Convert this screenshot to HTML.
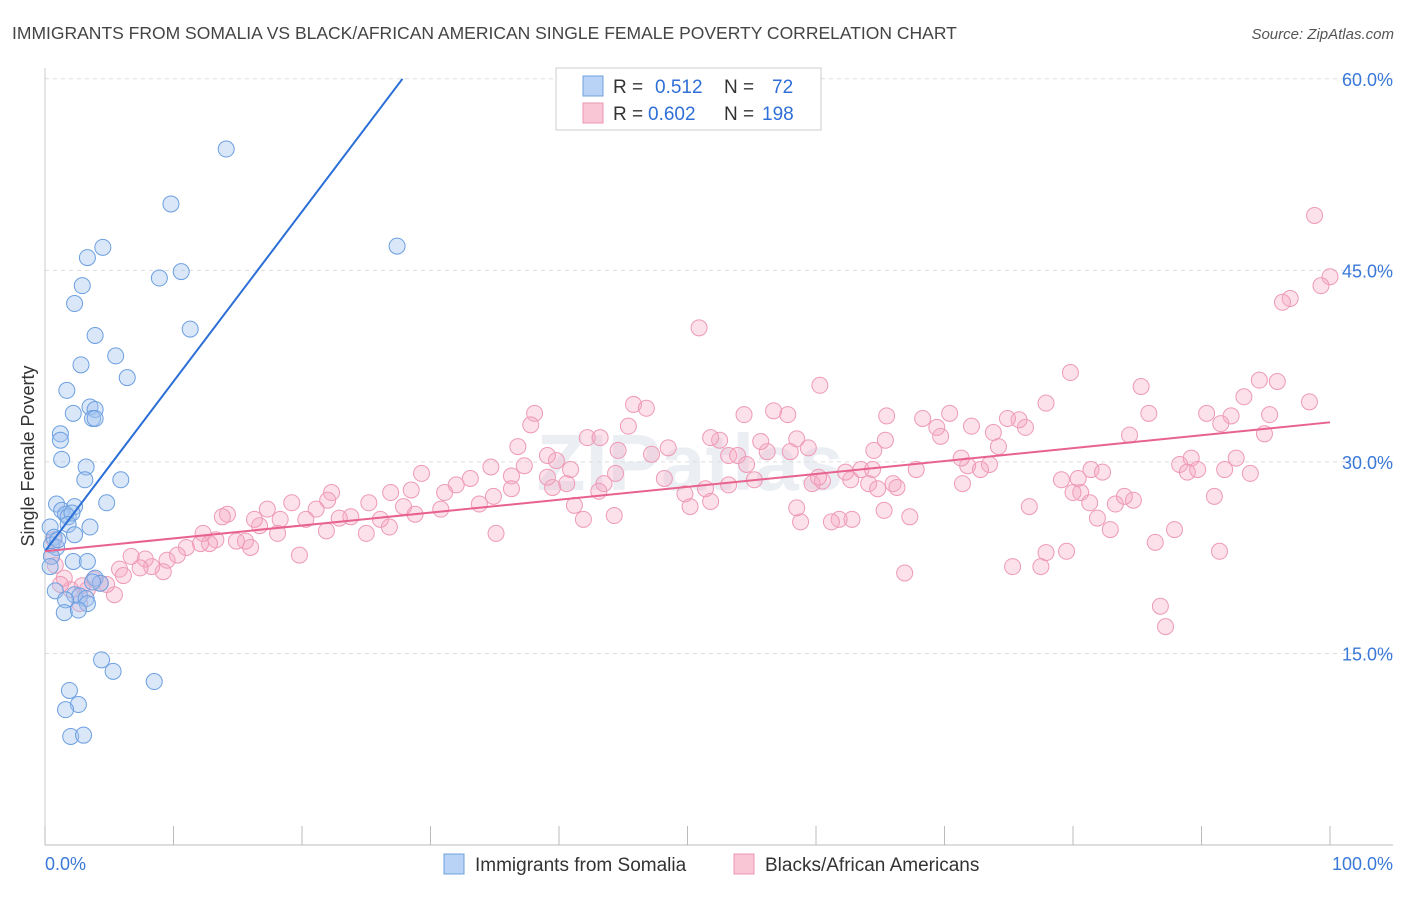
<!DOCTYPE html>
<html><head><meta charset="utf-8"><style>
body{margin:0;background:#fff;font-family:"Liberation Sans",sans-serif;}
svg text{font-family:"Liberation Sans",sans-serif;}
</style></head><body>
<svg id="chart" width="1406" height="892" viewBox="0 0 1406 892" xmlns="http://www.w3.org/2000/svg">
<text x="12" y="39" font-size="17.5" fill="#444">IMMIGRANTS FROM SOMALIA VS BLACK/AFRICAN AMERICAN SINGLE FEMALE POVERTY CORRELATION CHART</text>
<text x="1394" y="39" font-size="15" fill="#555" text-anchor="end" font-style="italic">Source: ZipAtlas.com</text>
<text transform="translate(34,456) rotate(-90)" font-size="18" fill="#333" text-anchor="middle">Single Female Poverty</text>
<text x="690" y="490" font-size="80" fill="#dfe6ee" text-anchor="middle" font-weight="bold" opacity="0.6">ZIPatlas</text>
<g id="grid"></g>
<g id="axes"></g>
<g id="pts"></g>
<g id="lines"></g>
<g>
<rect x="556" y="68" width="265" height="62" fill="#fff" stroke="#ccc"/>
<rect x="583" y="76" width="20" height="20" fill="#b8d3f5" stroke="#6fa0e0"/>
<text x="613" y="93" font-size="19" fill="#333">R = </text><text x="655" y="93" font-size="19" fill="#2f6fd6">0.512</text>
<text x="724" y="93" font-size="19" fill="#333">N = </text><text x="772" y="93" font-size="19" fill="#2f6fd6">72</text>
<rect x="583" y="103" width="20" height="20" fill="#f9c6d6" stroke="#ec95b0"/>
<text x="613" y="120" font-size="19" fill="#333">R = </text><text x="648" y="120" font-size="19" fill="#2f6fd6">0.602</text>
<text x="724" y="120" font-size="19" fill="#333">N = </text><text x="762" y="120" font-size="19" fill="#2f6fd6">198</text>
</g>
<g>
<rect x="444" y="854" width="20" height="20" fill="#b8d3f5" stroke="#6fa0e0"/>
<text x="475" y="871" font-size="19" fill="#333">Immigrants from Somalia</text>
<rect x="734" y="854" width="20" height="20" fill="#f9c6d6" stroke="#ec95b0"/>
<text x="765" y="871" font-size="19" fill="#333">Blacks/African Americans</text>
</g>
</svg>
<script>
const yTicks=[15,30,45,60];
const yTickLabels=["15.0%","30.0%","45.0%","60.0%"];
const xTickLabels=["0.0%","100.0%"];
const blueX=[14.1,9.8,27.4,4.5,3.3,10.6,8.9,2.9,2.3,11.3,3.9,5.5,2.8,6.4,1.7,3.5,3.9,2.2,3.7,3.9,1.2,1.2,1.3,3.2,3.1,5.9,4.8,0.9,2.3,1.3,1.6,1.8,2.1,1.8,3.5,0.4,0.7,2.3,0.5,0.9,1.0,0.5,2.2,3.3,0.4,3.9,4.3,3.7,0.8,2.3,2.7,3.2,1.6,3.3,1.5,2.6,4.4,5.3,8.5,1.9,2.6,1.6,2.0,3.0];
const blueY=[54.5,50.2,46.9,46.8,46.0,44.9,44.4,43.8,42.4,40.4,39.9,38.3,37.6,36.6,35.6,34.3,34.1,33.8,33.4,33.4,32.2,31.7,30.2,29.6,28.6,28.6,26.8,26.7,26.5,26.2,25.9,25.7,26.0,25.1,24.9,24.9,24.1,24.3,23.5,23.3,23.9,22.6,22.2,22.2,21.8,20.9,20.5,20.6,19.9,19.6,19.5,19.3,19.2,18.9,18.2,18.4,14.5,13.6,12.8,12.1,11.0,10.6,8.5,8.6];
const pinkX=[98.8,100,99.3,96.9,96.3,98.4,95.9,94.5,93.3,95.3,94.9,92.3,90.4,91.5,92.7,89.2,88.3,88.9,89.7,91.8,93.8,91.0,91.4,87.9,86.4,86.8,87.2,85.3,85.9,84.4,81.4,82.3,80.4,80.6,79.1,81.3,83.3,84.7,84.0,82.9,81.9,79.8,77.9,76.3,75.8,74.9,73.8,74.2,73.5,71.8,72.8,71.3,72.1,70.4,68.3,69.7,69.4,67.8,65.5,65.4,64.5,63.5,64.4,64.1,62.7,62.3,60.5,59.7,60.2,58.5,59.4,57.8,56.7,58.0,56.2,55.7,54.4,53.2,53.9,54.6,53.2,52.5,51.8,50.9,60.3,64.8,66.0,66.3,66.9,67.3,65.3,62.8,61.8,61.2,58.8,58.5,55.2,51.4,51.8,50.2,49.8,48.2,48.5,47.2,45.4,45.8,46.8,44.6,44.4,43.5,43.1,42.2,43.2,44.3,41.9,41.2,40.9,40.6,39.8,39.1,39.5,39.1,38.1,37.8,36.8,37.3,36.3,36.3,34.9,34.7,33.8,33.1,32.0,31.1,30.8,29.3,28.5,28.8,27.9,26.9,26.8,26.1,25.2,25.0,23.8,22.9,22.3,22.0,21.9,21.1,20.3,19.8,19.2,18.3,18.1,17.3,16.7,16.0,16.3,15.6,14.9,14.2,13.8,13.3,12.8,12.1,12.3,11.0,10.3,9.5,9.2,8.3,7.8,7.4,6.7,5.8,6.1,5.4,4.8,4.3,3.8,3.3,2.9,2.7,2.0,1.5,1.2,0.8,0.7,0.5,35.1,79.5,77.9,77.5,80.0,76.6,75.3,71.4];
const pinkY=[49.3,44.5,43.8,42.8,42.5,34.7,36.3,36.4,35.1,33.7,32.2,33.6,33.8,33.0,30.3,30.3,29.8,29.2,29.4,29.4,29.1,27.3,23.0,24.7,23.7,18.7,17.1,35.9,33.8,32.1,29.4,29.2,28.7,27.6,28.6,26.8,26.7,27.0,27.3,24.7,25.6,37.0,34.6,32.7,33.3,33.4,32.3,31.2,29.8,29.7,29.4,30.3,32.8,33.8,33.4,32.0,32.7,29.4,33.6,31.7,30.9,29.4,29.4,28.3,28.6,29.2,28.5,28.3,28.8,31.8,31.1,33.7,34.0,30.8,30.8,31.6,33.7,30.5,30.5,29.8,28.2,31.7,31.9,40.5,36.0,27.9,28.3,28.0,21.3,25.7,26.2,25.5,25.5,25.3,25.3,26.4,28.6,27.9,26.9,26.5,27.5,28.7,31.1,30.6,32.8,34.5,34.2,30.9,29.1,28.3,27.7,31.9,31.9,25.8,25.5,26.6,29.4,28.3,30.1,30.5,28.0,28.8,33.8,32.9,31.2,29.7,28.9,27.9,27.3,29.6,26.7,28.7,28.2,27.6,26.3,29.1,27.8,25.9,26.5,27.6,24.9,25.5,26.8,24.4,25.7,25.6,27.6,27.0,24.6,26.3,25.5,22.7,26.8,25.5,24.4,26.3,25.0,23.3,25.5,23.8,23.8,25.9,25.7,23.9,23.6,23.6,24.4,23.3,22.7,22.3,21.4,21.8,22.4,21.7,22.6,21.6,21.1,19.6,20.4,20.5,20.8,20.0,20.3,18.9,20.0,20.9,20.4,21.9,23.9,22.6,24.4,23.0,22.9,21.8,27.6,26.5,21.8,28.3];
const blueLine=[23.0,1.33];   // intercept, slope
const pinkLine=[23.0,0.101];

const NS="http://www.w3.org/2000/svg";
const X0=45,X1=1330,Y0=845,YS=12.77;
const sx=v=>X0+(X1-X0)*v/100;
const sy=v=>Y0-v*YS;
function mk(tag,attrs,parent){const e=document.createElementNS(NS,tag);for(const k in attrs)e.setAttribute(k,attrs[k]);parent.appendChild(e);return e;}
const grid=document.getElementById('grid'),axes=document.getElementById('axes'),pts=document.getElementById('pts'),lines=document.getElementById('lines');
yTicks.forEach((t,i)=>{
  const l=mk('line',{x1:X0,x2:1393,y1:sy(t),y2:sy(t),stroke:'#ddd','stroke-dasharray':'4,4'},grid);
  
  
  const tx=mk('text',{x:1393,y:sy(t)+7,'font-size':18,fill:'#3a78d8','text-anchor':'end'},axes);
  tx.textContent=yTickLabels[i];
  
  
});
const ax=mk('line',{x1:X0,x2:1393,y1:Y0,y2:Y0,stroke:'#bbb'},axes);


const ay=mk('line',{x1:X0,x2:X0,y1:68,y2:Y0,stroke:'#ccc'},axes);


for(let i=0;i<=10;i++){
  const t=mk('line',{x1:sx(i*10),x2:sx(i*10),y1:826,y2:Y0,stroke:'#bbb'},axes);
  
  
}
[[0,'start',xTickLabels[0]],[100,'end',xTickLabels[1]]].forEach(([v,a,s])=>{
  const tx=mk('text',{x:v===0?45:1393,y:870,'font-size':18,fill:'#3a78d8','text-anchor':a},axes);
  tx.textContent=s;
  
  
});
pinkX.forEach((x,i)=>{
  const c=mk('circle',{cx:sx(x),cy:sy(pinkY[i]),r:8,fill:'rgba(246,170,196,0.35)',stroke:'#ee9ab5','stroke-width':1},pts);
  
  
});
blueX.forEach((x,i)=>{
  const c=mk('circle',{cx:sx(x),cy:sy(blueY[i]),r:8,fill:'rgba(160,196,240,0.4)',stroke:'#6c9fe0','stroke-width':1},pts);
  
  
});
const bxEnd=(60-blueLine[0])/blueLine[1];
const bl=mk('line',{x1:sx(0),y1:sy(blueLine[0]),x2:sx(bxEnd),y2:sy(60),stroke:'#2b6fd6','stroke-width':2},lines);


const pl=mk('line',{x1:sx(0),y1:sy(pinkLine[0]),x2:sx(100),y2:sy(pinkLine[0]+pinkLine[1]*100),stroke:'#e8628e','stroke-width':2},lines);


</script>
</body></html>
